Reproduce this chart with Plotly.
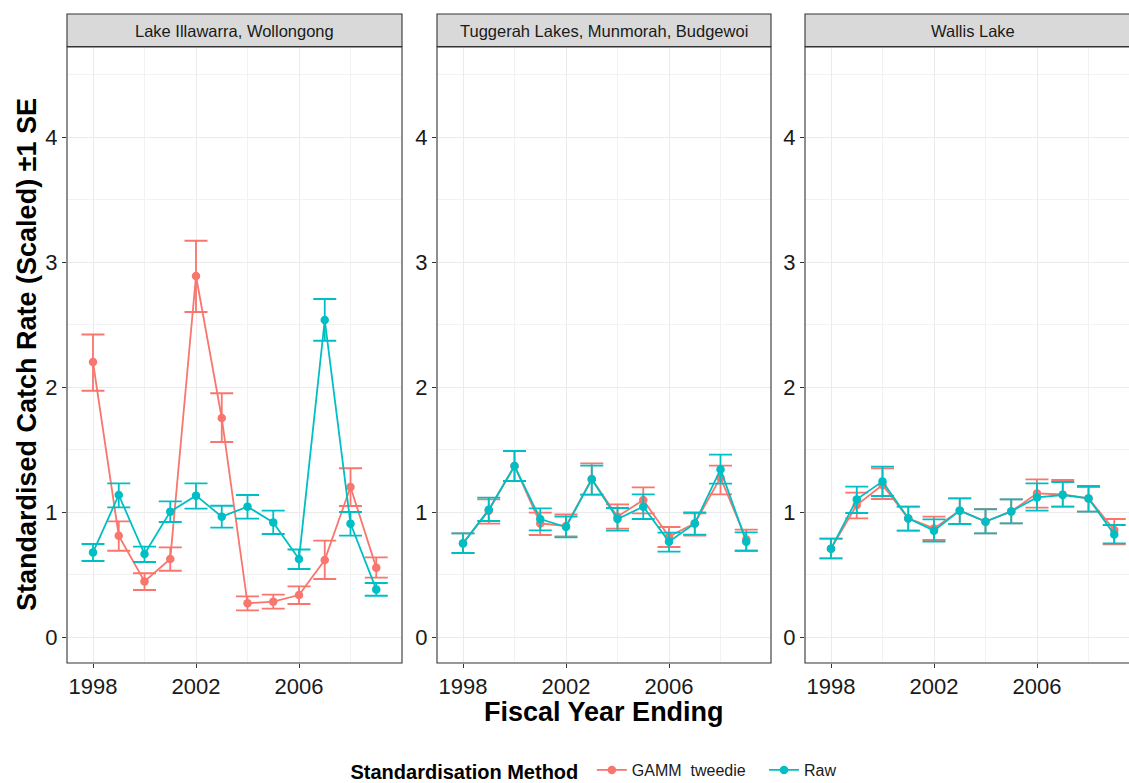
import plotly.graph_objects as go
import numpy as np

years = list(range(1998, 2010))
panels = ["Lake Illawarra, Wollongong", "Tuggerah Lakes, Munmorah, Budgewoi", "Wallis Lake"]
methods = ["GAMM  tweedie", "Raw"]
legend_labels = {"GAMM  tweedie": "GAMM&nbsp; tweedie&nbsp;&nbsp;&nbsp;", "Raw": "Raw"}
colors = {"GAMM  tweedie": "#F8766D", "Raw": "#00BFC4"}

# Lake Illawarra
ill_gamm = [2.20, 0.81, 0.445, 0.624, 2.888, 1.752, 0.27, 0.283, 0.336, 0.616, 1.20, 0.555]
ill_gamm_hi = [2.42, 0.925, 0.51, 0.717, 3.17, 1.95, 0.325, 0.339, 0.405, 0.771, 1.35, 0.637]
ill_gamm_lo = [1.97, 0.69, 0.376, 0.53, 2.60, 1.56, 0.213, 0.227, 0.264, 0.464, 1.048, 0.475]
ill_raw = [0.677, 1.136, 0.664, 1.003, 1.131, 0.963, 1.043, 0.917, 0.624, 2.536, 0.907, 0.381]
ill_raw_hi = [0.744, 1.229, 0.723, 1.085, 1.229, 1.05, 1.136, 1.011, 0.70, 2.704, 1.0, 0.432]
ill_raw_lo = [0.608, 1.037, 0.60, 0.92, 1.027, 0.875, 0.947, 0.824, 0.544, 2.37, 0.811, 0.33]

# Tuggerah Lakes
tug_gamm = [0.75, 1.01, 1.368, 0.909, 0.888, 1.264, 0.963, 1.096, 0.803, 0.909, 1.275, 0.781]
tug_gamm_hi = [0.829, 1.101, 1.488, 0.995, 0.98, 1.389, 1.061, 1.197, 0.88, 0.99, 1.371, 0.859]
tug_gamm_lo = [0.672, 0.907, 1.248, 0.816, 0.805, 1.139, 0.867, 0.989, 0.72, 0.812, 1.141, 0.69]
tug_raw = [0.749, 1.019, 1.368, 0.944, 0.88, 1.261, 0.944, 1.043, 0.763, 0.909, 1.341, 0.763]
tug_raw_hi = [0.829, 1.115, 1.488, 1.029, 0.963, 1.371, 1.032, 1.141, 0.835, 0.997, 1.459, 0.837]
tug_raw_lo = [0.672, 0.928, 1.248, 0.853, 0.797, 1.139, 0.851, 0.944, 0.683, 0.819, 1.227, 0.69]

# Wallis Lake
wal_gamm = [0.707, 1.056, 1.216, 0.949, 0.869, 1.011, 0.923, 1.005, 1.149, 1.14, 1.109, 0.856]
wal_gamm_hi = [0.787, 1.155, 1.349, 1.043, 0.963, 1.109, 1.025, 1.101, 1.261, 1.256, 1.20, 0.944]
wal_gamm_lo = [0.629, 0.949, 1.104, 0.851, 0.776, 0.904, 0.829, 0.909, 1.035, 1.043, 1.003, 0.741]
wal_raw = [0.707, 1.101, 1.245, 0.949, 0.851, 1.011, 0.923, 1.005, 1.117, 1.136, 1.109, 0.821]
wal_raw_hi = [0.787, 1.203, 1.363, 1.043, 0.941, 1.109, 1.021, 1.101, 1.229, 1.24, 1.208, 0.896]
wal_raw_lo = [0.629, 0.992, 1.128, 0.851, 0.763, 0.904, 0.829, 0.909, 1.011, 1.043, 1.003, 0.749]

data = [
    {"GAMM  tweedie": (ill_gamm, ill_gamm_hi, ill_gamm_lo), "Raw": (ill_raw, ill_raw_hi, ill_raw_lo)},
    {"GAMM  tweedie": (tug_gamm, tug_gamm_hi, tug_gamm_lo), "Raw": (tug_raw, tug_raw_hi, tug_raw_lo)},
    {"GAMM  tweedie": (wal_gamm, wal_gamm_hi, wal_gamm_lo), "Raw": (wal_raw, wal_raw_hi, wal_raw_lo)},
]

W, H = 1129, 783
L, T, B = 67, 47, 120
pw = W - L
ph = H - T - B
panel_px = [(67, 402), (437, 771), (805, 1140)]
px_per_year = 25.75
x0_year = 1998 - (93 - 67) / px_per_year

fig = go.Figure()
FONT = "Liberation Sans, Arial, sans-serif"

for i, pdata in enumerate(data):
    xa = "x" if i == 0 else f"x{i+1}"
    ya = "y" if i == 0 else f"y{i+1}"
    for m in methods:
        v, hi, lo = pdata[m]
        v = np.array(v); hi = np.array(hi); lo = np.array(lo)
        fig.add_trace(go.Scatter(
            x=years, y=v, mode="lines+markers", name=legend_labels[m],
            legendgroup=m, showlegend=(i == 0),
            line=dict(color=colors[m], width=1.8),
            marker=dict(color=colors[m], size=8.5),
            error_y=dict(type="data", array=hi - v, arrayminus=v - lo,
                         color=colors[m], thickness=1.8, width=11.5),
            xaxis=xa, yaxis=ya,
        ))

layout = dict(
    width=W, height=H,
    margin=dict(l=L, r=0, t=T, b=B),
    paper_bgcolor="white", plot_bgcolor="white",
    font=dict(family=FONT, color="#1A1A1A"),
    showlegend=True,
    legend=dict(orientation="h", xanchor="center", x=(595 - L) / pw,
                yref="container", yanchor="middle", y=1 - 771 / H,
                title=dict(text="<b>Standardisation Method</b>&nbsp;", side="left",
                           font=dict(size=20, color="#000000")),
                font=dict(size=16, color="#1A1A1A"), itemwidth=30),
)

shapes = []
annotations = []
for i, (a, b) in enumerate(panel_px):
    sfx = "" if i == 0 else str(i + 1)
    d0 = (a - L) / pw
    d1 = min((b - L) / pw, 1.0)
    right_year = x0_year + (min(b, W) - a) / px_per_year
    layout["xaxis" + sfx] = dict(
        domain=[d0, d1], range=[x0_year, right_year],
        tickvals=[1998, 2002, 2006], ticks="outside", ticklen=4, tickcolor="#333333",
        tickfont=dict(size=22, color="#1A1A1A", family=FONT),
        showgrid=True, gridcolor="#EBEBEB", gridwidth=1.2,
        minor=dict(tickvals=[2000, 2004, 2008], showgrid=True, gridcolor="#F2F2F2", gridwidth=0.7, ticks=""),
        zeroline=False, showline=False, anchor="y" + sfx,
    )
    layout["yaxis" + sfx] = dict(
        domain=[0, 1], range=[-0.208, 4.72],
        tickvals=[0, 1, 2, 3, 4], ticks="outside", ticklen=4, tickcolor="#333333",
        tickfont=dict(size=22, color="#1A1A1A", family=FONT),
        showgrid=True, gridcolor="#EBEBEB", gridwidth=1.2,
        minor=dict(tickvals=[0.5, 1.5, 2.5, 3.5, 4.5], showgrid=True, gridcolor="#F2F2F2", gridwidth=0.7, ticks=""),
        zeroline=False, showline=False, anchor="x" + sfx,
    )
    # panel border
    shapes.append(dict(type="rect", xref="paper", yref="paper",
                       x0=(a - L) / pw, x1=(b - L) / pw, y0=0, y1=1,
                       line=dict(color="#333333", width=1.1), fillcolor="rgba(0,0,0,0)", layer="above"))
    # strip
    shapes.append(dict(type="rect", xref="paper", yref="paper",
                       x0=(a - L) / pw, x1=(b - L) / pw, y0=1 + 0.5 / ph, y1=1 + (T - 14) / ph,
                       line=dict(color="#333333", width=1.1), fillcolor="#D9D9D9", layer="above"))
    annotations.append(dict(text=panels[i], xref="paper", yref="paper",
                            x=((a + b) / 2 - L) / pw, y=1 + (T - 30.5) / ph,
                            showarrow=False, xanchor="center", yanchor="middle",
                            font=dict(size=16.5, color="#1A1A1A", family=FONT)))

annotations.append(dict(text="<b>Fiscal Year Ending</b>", xref="paper", yref="paper",
                        x=(604 - L) / pw, y=-(712 - (T + ph)) / ph, showarrow=False,
                        xanchor="center", yanchor="middle",
                        font=dict(size=27, color="#000000", family=FONT)))
annotations.append(dict(text="<b>Standardised Catch Rate (Scaled) ±1 SE</b>", xref="paper", yref="paper",
                        x=-(67 - 27) / pw, y=(T + ph - 355) / ph, showarrow=False, textangle=-90,
                        xanchor="center", yanchor="middle",
                        font=dict(size=27, color="#000000", family=FONT)))

layout["shapes"] = shapes
layout["annotations"] = annotations
fig.update_layout(**layout)
fig.write_html("out.html", config={"displayModeBar": False})

# remove the default page margin so the figure sits at the window's corner
with open("out.html", "r", encoding="utf-8") as f:
    html = f.read()
html = html.replace("<body>", '<body style="margin:0;padding:0;overflow:hidden;">', 1)
with open("out.html", "w", encoding="utf-8") as f:
    f.write(html)
